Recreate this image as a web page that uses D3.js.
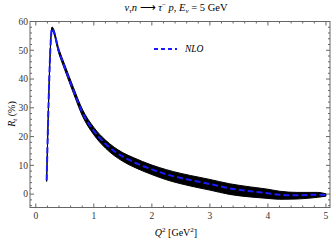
<!DOCTYPE html>
<html><head><meta charset="utf-8">
<script src="https://cdn.jsdelivr.net/npm/d3@7"></script>
<style>body{margin:0;background:#fff}svg{display:block}</style>
</head><body>
<script>
const q2 =   [0.187,0.28,0.4,0.5,0.65,0.8,1.0,1.2,1.5,1.68,2.0,2.25,2.5,2.83,3.0,3.34,3.7,4.0,4.2,4.5,4.86,5.0];
const nlo =  [4.8,57.5,49.5,44,36,28.5,22,17.5,13,11.2,8.6,6.9,5.6,4.2,3.5,2.0,1.0,0.3,-0.2,-0.4,-0.2,-0.3];
const bandHi=[0.4,0.6,0.8,0.9,1.0,1.1,1.2,1.3,1.4,1.5,1.5,1.6,1.6,1.6,1.6,1.6,1.5,1.4,1.2,1.0,0.8,0.4];
const bandLo=[0.4,0.6,0.8,0.9,1.0,1.2,1.4,1.5,1.6,1.7,1.8,1.9,2.0,2.1,2.1,2.1,2.0,1.8,1.6,1.3,0.9,0.4];
const xTicks=[0,1,2,3,4,5];
const yTicks=[0,10,20,30,40,50,60];
const W=332,H=241, L=30,R=330,T=21.5,B=207.5;
const svg=d3.select("body").append("svg").attr("width",W).attr("height",H);
const x=d3.scaleLinear().domain([-0.1,5.07]).range([L,R]);
const y=d3.scaleLinear().domain([-4.65,60]).range([B,T]);
const font="Liberation Serif, Times New Roman, serif";
const fc="#666";
// band
const data=q2.map((d,i)=>({x:d,v:nlo[i],hi:nlo[i]+bandHi[i],lo:nlo[i]-bandLo[i]}));
svg.append("path").datum(data).attr("fill","#000").attr("stroke","#000").attr("stroke-width",1)
  .attr("d",d3.area().x(d=>x(d.x)).y0(d=>y(d.lo)).y1(d=>y(d.hi)).curve(d3.curveMonotoneX));
svg.append("path").datum(data).attr("fill","none").attr("stroke","#1a1aff").attr("stroke-width",2)
  .attr("stroke-dasharray","6,3")
  .attr("d",d3.line().x(d=>x(d.x)).y(d=>y(d.v)).curve(d3.curveMonotoneX));
// frame
const g=svg.append("g");
g.append("rect").attr("x",L).attr("y",T).attr("width",R-L).attr("height",B-T).attr("fill","none").attr("stroke",fc).attr("stroke-width",1);
// ticks
const xMinor=d3.range(0,5.01,0.2);
xMinor.forEach(v=>{const major=Math.abs(v-Math.round(v))<1e-6;const len=major?4:2;
  g.append("line").attr("x1",x(v)).attr("x2",x(v)).attr("y1",B).attr("y2",B-len).attr("stroke",fc);
  g.append("line").attr("x1",x(v)).attr("x2",x(v)).attr("y1",T).attr("y2",T+len).attr("stroke",fc);});
const yMinor=d3.range(-4,60.1,2);
yMinor.forEach(v=>{const major=v%10===0;const len=major?4:2;
  g.append("line").attr("y1",y(v)).attr("y2",y(v)).attr("x1",L).attr("x2",L+len).attr("stroke",fc);
  g.append("line").attr("y1",y(v)).attr("y2",y(v)).attr("x1",R).attr("x2",R-len).attr("stroke",fc);});
svg.selectAll(".xl").data(xTicks).enter().append("text").attr("x",d=>x(d)).attr("y",219)
  .attr("text-anchor","middle").attr("font-family",font).attr("font-size",9.5).attr("fill","#333").text(d=>d);
svg.selectAll(".yl").data(yTicks).enter().append("text").attr("x",28).attr("y",d=>y(d)+3.3)
  .attr("text-anchor","end").attr("font-family",font).attr("font-size",9.5).attr("fill","#333").text(d=>d);
// title
const t=svg.append("text").attr("x",176).attr("y",11).attr("text-anchor","middle").attr("font-family",font).attr("font-size",10.5);
t.append("tspan").attr("font-style","italic").text("ν");
t.append("tspan").attr("font-style","italic").attr("font-size",7).attr("dy",2).text("τ");
t.append("tspan").attr("font-style","italic").attr("dy",-2).text("n");
t.append("tspan").text(" ⟶ ");
t.append("tspan").attr("font-style","italic").text("τ");
t.append("tspan").attr("font-size",7).attr("dy",-4).text("−");
t.append("tspan").attr("font-style","italic").attr("dy",4).text(" p");
t.append("tspan").text(", ");
t.append("tspan").attr("font-style","italic").text("E");
t.append("tspan").attr("font-style","italic").attr("font-size",7).attr("dy",2).text("ν");
t.append("tspan").attr("dy",-2).text(" = 5 GeV");
// x label
const xl=svg.append("text").attr("x",176).attr("y",236).attr("text-anchor","middle").attr("font-family",font).attr("font-size",10);
xl.append("tspan").attr("font-style","italic").text("Q");
xl.append("tspan").attr("font-size",7).attr("dy",-4).text("2");
xl.append("tspan").attr("dy",4).text(" [GeV");
xl.append("tspan").attr("font-size",7).attr("dy",-4).text("2");
xl.append("tspan").attr("dy",4).text("]");
// y label
const yl=svg.append("text").attr("transform","translate(15,114) rotate(-90)").attr("text-anchor","middle").attr("font-family",font).attr("font-size",10);
yl.append("tspan").attr("font-style","italic").text("R");
yl.append("tspan").attr("font-style","italic").attr("font-size",7).attr("dy",2).text("t");
yl.append("tspan").attr("dy",-2).text(" (%)");
// legend
svg.append("line").attr("x1",154).attr("x2",177).attr("y1",49).attr("y2",49).attr("stroke","#1a1aff").attr("stroke-width",2).attr("stroke-dasharray","4,3");
svg.append("text").attr("x",185).attr("y",52).attr("font-family",font).attr("font-style","italic").attr("font-size",9.5).text("NLO");
</script>
</body></html>
